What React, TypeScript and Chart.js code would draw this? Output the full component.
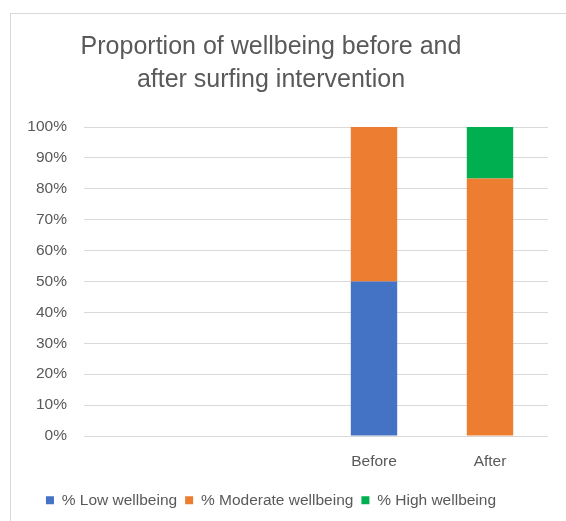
import React, { useEffect, useRef } from "react";
import { Chart, registerables } from "chart.js";

Chart.register(...registerables);

const categories = ["", "", "Before", "After"];
const lowWellbeing = [null, null, 50, 0];
const moderateWellbeing = [null, null, 50, 83.33];
const highWellbeing = [null, null, 0, 16.67];
const yTicks = [0, 10, 20, 30, 40, 50, 60, 70, 80, 90, 100];

const FONT = "'Liberation Sans', Arial, sans-serif";
const TEXT = "#595959";
const GRID = "#d9d9d9";

const borderPlugin = {
  id: "frame",
  beforeDraw(chart: any) {
    const ctx = chart.ctx;
    ctx.save();
    ctx.fillStyle = "#ffffff";
    ctx.fillRect(0, 0, chart.width, chart.height);
    ctx.strokeStyle = GRID;
    ctx.lineWidth = 1;
    ctx.strokeRect(10.5, 13.5, 700, 700);
    ctx.restore();
  },
};

export default function App() {
  const ref = useRef<HTMLCanvasElement | null>(null);
  useEffect(() => {
    if (!ref.current) return;
    const chart = new Chart(ref.current, {
      type: "bar",
      data: {
        labels: categories,
        datasets: [
          { label: "% Low wellbeing", data: lowWellbeing as any, backgroundColor: "#4472C4" },
          { label: "% Moderate wellbeing", data: moderateWellbeing as any, backgroundColor: "#ED7D31" },
          { label: "% High wellbeing", data: highWellbeing as any, backgroundColor: "#00B050" },
        ],
      },
      options: {
        responsive: false,
        animation: false,
        barPercentage: 0.4,
        categoryPercentage: 1,
        layout: { padding: { left: -6, right: 18, top: 13, bottom: 3 } },
        scales: {
          x: {
            stacked: true,
            grid: { display: false },
            border: { display: false },
            ticks: { color: TEXT, font: { family: FONT, size: 15.5 }, padding: 8, maxRotation: 0 },
            afterFit: (s: any) => { s.height = 48.5; },
          },
          y: {
            stacked: true,
            min: 0,
            max: 100,
            grid: { color: GRID, lineWidth: 1, drawTicks: false },
            border: { display: false },
            afterBuildTicks: (s: any) => { s.ticks = yTicks.map((v) => ({ value: v })); },
            ticks: {
              color: TEXT,
              font: { family: FONT, size: 15.5 },
              padding: 17,
              callback: (v: any) => v + "%",
            },
            afterFit: (s: any) => { s.width = 90; },
          },
        },
        plugins: {
          title: {
            display: true,
            text: ["Proportion of wellbeing before and", "after surfing intervention"],
            color: TEXT,
            font: { family: FONT, size: 25, weight: "normal" as any, lineHeight: 1.32 },
            padding: { top: 17.5, bottom: 30.5 },
          },
          legend: {
            position: "bottom",
            labels: {
              color: TEXT,
              font: { family: FONT, size: 15.5 },
              boxWidth: 8,
              boxHeight: 8,
              padding: 8,
            },
          },
          tooltip: { enabled: false },
        },
      },
      plugins: [borderPlugin],
    });
    return () => chart.destroy();
  }, []);
  return (
    <div style={{ position: "absolute", left: 0, top: 0, width: 566, height: 521 }}>
      <canvas ref={ref} width={566} height={521} />
    </div>
  );
}
